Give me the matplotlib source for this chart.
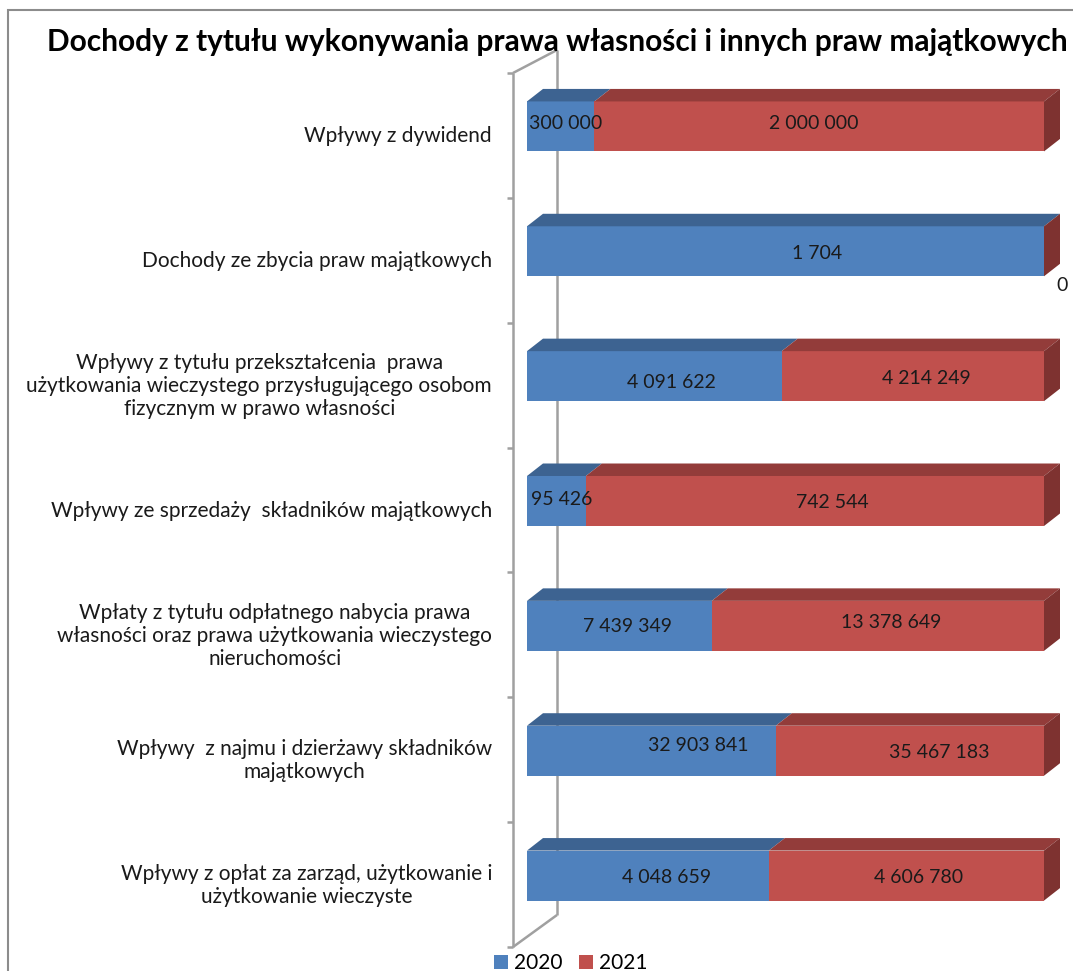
import matplotlib
matplotlib.use("Agg")
import matplotlib.pyplot as plt
from matplotlib.patches import Rectangle, Polygon, Patch

plt.rcParams['font.family'] = ['Lato', 'DejaVu Sans']

# data (2020 / 2021)
categories = [
    "Wpływy z dywidend",
    "Dochody ze zbycia praw majątkowych",
    "Wpływy z tytułu przekształcenia  prawa\nużytkowania wieczystego przysługującego osobom\nfizycznym w prawo własności",
    "Wpływy ze sprzedaży  składników majątkowych",
    "Wpłaty z tytułu odpłatnego nabycia prawa\nwłasności oraz prawa użytkowania wieczystego\nnieruchomości",
    "Wpływy  z najmu i dzierżawy składników\nmajątkowych",
    "Wpływy z opłat za zarząd, użytkowanie i\nużytkowanie wieczyste",
]
v2020 = [300000, 1704, 4091622, 95426, 7439349, 32903841, 4048659]
v2021 = [2000000, 0, 4214249, 742544, 13378649, 35467183, 4606780]
series = ["2020", "2021"]

# label nudges in pixels (excel moved some labels by hand)
nudge_x = [[5, 32, 17, 5, 8, 47, 19], [-5, 18, 14, 17, 13, 29, 12]]
nudge_y = [[-3, 2, 6, -2, 1, -5, 2], [-3, 34, 2, 1, -3, 2, 2]]

front = ["#4F81BD", "#C0504D"]
top = ["#3D6391", "#933C3A"]
side = ["#35577F", "#7E3230"]

W, H = 1073, 971
fig = plt.figure(figsize=(W / 100, H / 100), dpi=100)
ax = fig.add_axes([527 / W, 1 - 938 / H, 517 / W, 874 / H])
ax.set_xlim(0, 100)
ax.set_ylim(6.5, -0.5)
ax.axis("off")

sx = 517 / 100.0   # px per percent
sy = 874 / 7.0     # px per category
dx, dy = 16 / sx, 12.5 / sy
hh = 25 / sy       # half bar height

def px2y(p):
    return (p - 64) / sy - 0.5

# outer chart border
fig.patches.append(Rectangle((8 / W, -0.1), 1.2, 1 - 10 / H + 0.1, transform=fig.transFigure,
                             fill=False, ec="#8C8C8C", lw=1.5))

# 3d wall
wall = dict(color="#A0A0A0", lw=1.8, clip_on=False, solid_capstyle="butt")
fx, bx = -14 / sx, 30 / sx
ax.plot([fx, fx], [px2y(73), px2y(947)], **wall)
ax.plot([bx, bx], [px2y(50), px2y(915)], **wall)
ax.plot([fx, bx], [px2y(73), px2y(50)], **wall)
ax.plot([fx, bx], [px2y(947), px2y(915)], **wall)
for k in range(len(categories) + 1):
    ty = k - 0.5 + 9 / sy
    ax.plot([-20 / sx, fx], [ty, ty], **wall)

for i in range(len(categories)):
    vals = [v2020[i], v2021[i]]
    tot = sum(vals)
    left = 0.0
    for s in range(2):
        w = vals[s] / tot * 100
        y0 = i - hh
        ax.add_patch(Rectangle((left, y0), w, 2 * hh, fc=front[s], ec="none", zorder=3))
        ax.add_patch(Polygon([(left, y0), (left + w, y0), (left + w + dx, y0 - dy), (left + dx, y0 - dy)],
                             closed=True, fc=top[s], ec="none", zorder=3, clip_on=False))
        lbl = f"{vals[s]:,}".replace(",", " ")
        ax.text(left + w / 2 + nudge_x[s][i] / sx, i + nudge_y[s][i] / sy, lbl,
                ha="center", va="center", fontsize=14, color="#1A1A1A", zorder=5, clip_on=False)
        left += w
    # right side face of the last segment
    ax.add_patch(Polygon([(left, i - hh), (left + dx, i - hh - dy), (left + dx, i + hh - dy), (left, i + hh)],
                         closed=True, fc=side[1], ec="none", zorder=3, clip_on=False))
    ax.text(-35 / sx, i + 0.08, categories[i], ha="right", va="center", multialignment="center",
            fontsize=15, color="#1A1A1A", linespacing=1.2, clip_on=False)

fig.text(557 / W, 1 - 51 / H, "Dochody z tytułu wykonywania prawa własności i innych praw majątkowych",
         ha="center", va="baseline", fontsize=21.5, fontweight="bold", color="black")

handles = [Patch(fc=front[0]), Patch(fc=front[1])]
fig.legend(handles, series, loc="center", bbox_to_anchor=(571 / W, 1 - 963 / H), ncol=2, frameon=False,
           fontsize=15, handlelength=0.65, handleheight=0.65, handletextpad=0.3, columnspacing=0.8,
           borderpad=0, borderaxespad=0)

fig.savefig("out.png", dpi=100)
